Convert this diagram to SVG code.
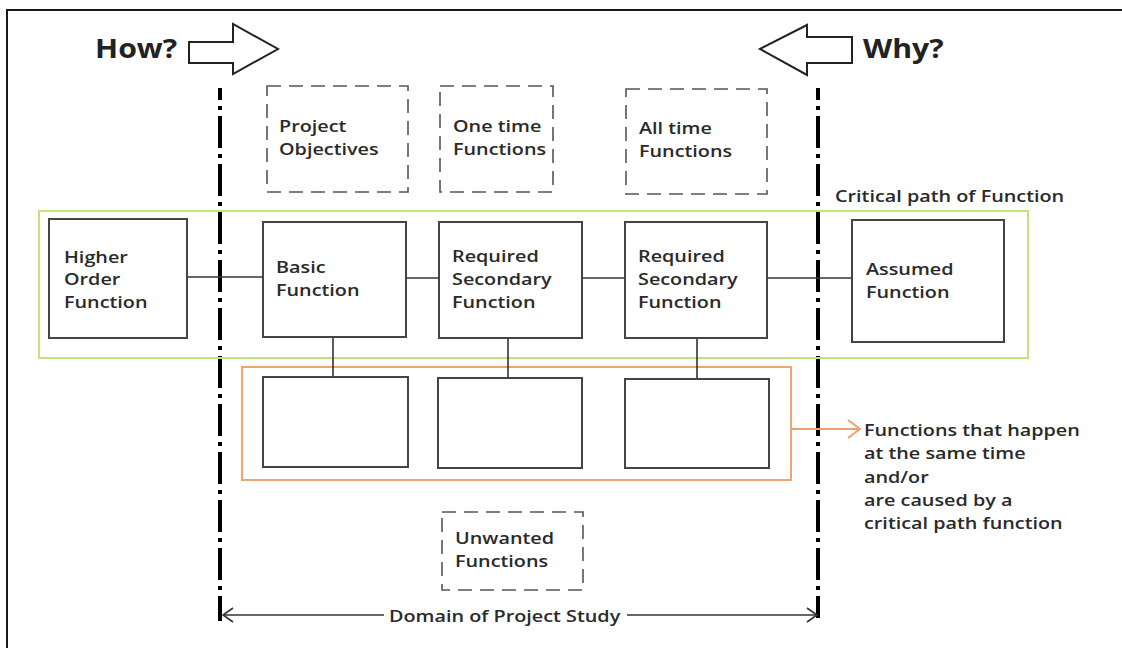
<svg xmlns="http://www.w3.org/2000/svg" width="1122" height="648" viewBox="0 0 1122 648">
  <style>
    text { font-family: "Open Sans", "Noto Sans", "Liberation Sans", sans-serif; font-weight: 600; fill: #2a2a2a; font-size: 16.5px;
           transform-box: fill-box; transform-origin: left center; transform: scaleX(1.2); }
    .big { font-size: 27px; font-weight: 700; fill: #222; transform: scaleX(1.12); }
    .box { fill: #fff; stroke: #444; stroke-width: 2; }
    .dbox { fill: none; stroke: #555; stroke-width: 1.6; stroke-dasharray: 14 8; }
    .boundary { stroke: #000; stroke-width: 4; stroke-dasharray: 32 6 4 6; stroke-dashoffset: 20; fill: none; }
    .link { stroke: #333; stroke-width: 1.6; fill: none; }
    .bigarrow { fill: #fff; stroke: #222; stroke-width: 2; stroke-linejoin: miter; }
  </style>
  <defs>
    <marker id="chev" viewBox="0 0 12 16" refX="11" refY="8" markerWidth="12" markerHeight="16" markerUnits="userSpaceOnUse" orient="auto-start-reverse">
      <path d="M1,1 L11,8 L1,15" fill="none" stroke="#333" stroke-width="1.6"/>
    </marker>
    <marker id="chevOrange" viewBox="0 0 14 20" refX="13" refY="10" markerWidth="14" markerHeight="20" markerUnits="userSpaceOnUse" orient="auto">
      <path d="M1,1 L13,10 L1,19" fill="none" stroke="#f0a06a" stroke-width="2"/>
    </marker>
  </defs>

  <rect width="1122" height="648" fill="#fff"/>
  <!-- frame -->
  <path d="M7,660 L7,10 L1130,10" fill="none" stroke="#1a1a1a" stroke-width="2"/>

  <!-- How? / Why? direction arrows -->
  <g id="how">
    <text class="big" x="95" y="58">How?</text>
    <polygon class="bigarrow" points="189,42 233,42 233,24 278,49 233,74 233,63 189,63"/>
  </g>
  <g id="why">
    <polygon class="bigarrow" points="760,49 807,25 807,37 852,37 852,63 807,63 807,75"/>
    <text class="big" x="863" y="58">Why?</text>
  </g>

  <!-- scope boundaries -->
  <g id="boundaries">
    <line class="boundary" x1="220" y1="88" x2="220" y2="621"/>
    <line class="boundary" x1="818" y1="88" x2="818" y2="618"/>
  </g>

  <!-- groupings -->
  <g id="critical-path-group">
    <rect x="39" y="211" width="989" height="147" fill="none" stroke="#c3e27a" stroke-width="2"/>
    <text x="835" y="202">Critical path of Function</text>
  </g>
  <g id="simultaneous-group">
    <rect x="242" y="367" width="549" height="113" fill="none" stroke="#f2a470" stroke-width="2"/>
  </g>

  <!-- connectors -->
  <g id="connectors">
    <line class="link" x1="187" y1="277" x2="263" y2="277"/>
    <line class="link" x1="406" y1="278" x2="439" y2="278"/>
    <line class="link" x1="582" y1="278" x2="625" y2="278"/>
    <line class="link" x1="767" y1="278" x2="852" y2="278"/>
    <line class="link" x1="333" y1="337" x2="333" y2="377"/>
    <line class="link" x1="508" y1="338" x2="508" y2="378"/>
    <line class="link" x1="697" y1="338" x2="697" y2="379"/>
    <line x1="791" y1="429" x2="860" y2="429" stroke="#f0a06a" stroke-width="2" marker-end="url(#chevOrange)"/>
    <line class="link" x1="223" y1="615" x2="384" y2="615" marker-start="url(#chev)"/>
    <line class="link" x1="627" y1="615" x2="817" y2="615" marker-end="url(#chev)"/>
  </g>

  <!-- dashed context boxes -->
  <g id="project-objectives">
    <rect class="dbox" x="267" y="86" width="141" height="106"/>
    <text x="279" y="132">Project</text>
    <text x="279" y="155">Objectives</text>
  </g>
  <g id="one-time-functions">
    <rect class="dbox" x="440" y="86" width="113" height="106"/>
    <text x="453" y="132">One time</text>
    <text x="453" y="155">Functions</text>
  </g>
  <g id="all-time-functions">
    <rect class="dbox" x="626" y="89" width="141" height="105"/>
    <text x="639" y="134">All time</text>
    <text x="639" y="157">Functions</text>
  </g>
  <g id="unwanted-functions">
    <rect class="dbox" x="442" y="512" width="141" height="78"/>
    <text x="455" y="544">Unwanted</text>
    <text x="455" y="567">Functions</text>
  </g>

  <!-- critical path nodes -->
  <g id="higher-order-function">
    <rect class="box" x="49" y="219" width="138" height="119"/>
    <text x="64" y="263">Higher</text>
    <text x="64" y="285">Order</text>
    <text x="64" y="308">Function</text>
  </g>
  <g id="basic-function">
    <rect class="box" x="263" y="222" width="143" height="115"/>
    <text x="276" y="273">Basic</text>
    <text x="276" y="296">Function</text>
  </g>
  <g id="required-secondary-1">
    <rect class="box" x="439" y="222" width="143" height="116"/>
    <text x="452" y="262">Required</text>
    <text x="452" y="285">Secondary</text>
    <text x="452" y="308">Function</text>
  </g>
  <g id="required-secondary-2">
    <rect class="box" x="625" y="222" width="142" height="116"/>
    <text x="638" y="262">Required</text>
    <text x="638" y="285">Secondary</text>
    <text x="638" y="308">Function</text>
  </g>
  <g id="assumed-function">
    <rect class="box" x="852" y="220" width="152" height="122"/>
    <text x="866" y="275">Assumed</text>
    <text x="866" y="298">Function</text>
  </g>

  <!-- simultaneous functions -->
  <g id="simultaneous-1"><rect class="box" x="263" y="377" width="145" height="90"/></g>
  <g id="simultaneous-2"><rect class="box" x="438" y="378" width="144" height="90"/></g>
  <g id="simultaneous-3"><rect class="box" x="625" y="379" width="144" height="89"/></g>

  <g id="simultaneous-note">
    <text x="864" y="436">Functions that happen</text>
    <text x="864" y="459">at the same time</text>
    <text x="864" y="483">and/or</text>
    <text x="864" y="506">are caused by a</text>
    <text x="864" y="529">critical path function</text>
  </g>

  <g id="domain-label">
    <text x="389" y="622" font-size="17">Domain of Project Study</text>
  </g>
</svg>
